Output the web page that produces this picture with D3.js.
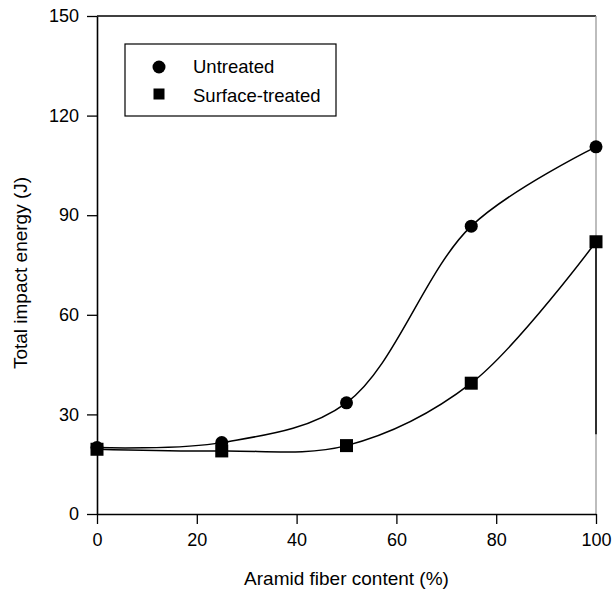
<!DOCTYPE html>
<html>
<head>
<meta charset="utf-8">
<script src="https://cdn.jsdelivr.net/npm/d3@7"></script>
<style>
  body { margin: 0; background: #fff; }
  svg { display: block; font-family: "Liberation Sans", Arial, sans-serif; }
</style>
</head>
<body>
<div id="chart"></div>
<script>
// data
var fiberContent = [0, 25, 50, 75, 100];
var untreated = [20, 21.5, 33.5, 86.7, 110.6];
var surfaceTreated = [19.5, 19, 20.6, 39.4, 82];
var xTicks = [0, 20, 40, 60, 80, 100];
var yTicks = [0, 30, 60, 90, 120, 150];
var seriesNames = ['Untreated', 'Surface-treated'];

var width = 613, height = 592;
var margin = {top: 16, right: 17, bottom: 78, left: 97};
var plotW = width - margin.left - margin.right;
var plotH = height - margin.top - margin.bottom;

var svg = d3.select('#chart').append('svg')
	.attr('width', width)
	.attr('height', height);

var g = svg.append('g')
	.attr('transform', 'translate(' + margin.left + ',' + margin.top + ')');

var x = d3.scaleLinear().domain([0, 100]).range([0, plotW]);
var y = d3.scaleLinear().domain([0, 150]).range([plotH, 0]);

// frame: top and right
g.append('line')
	.attr('x1', 0).attr('x2', plotW)
	.attr('y1', 0).attr('y2', 0)
	.attr('stroke', '#000').attr('stroke-width', 1.3);
g.append('line')
	.attr('x1', plotW).attr('x2', plotW)
	.attr('y1', 0).attr('y2', plotH)
	.attr('stroke', '#9a9a9a').attr('stroke-width', 1.3);
g.append('line')
	.attr('x1', plotW).attr('x2', plotW)
	.attr('y1', y(82)).attr('y2', y(24))
	.attr('stroke', '#000').attr('stroke-width', 1.5);

var xAxis = g.append('g')
	.attr('transform', 'translate(0,' + plotH + ')')
	.call(d3.axisBottom(x).tickValues(xTicks).tickSize(10).tickSizeOuter(0).tickPadding(9));

var yAxis = g.append('g')
	.call(d3.axisLeft(y).tickValues(yTicks).tickSize(10).tickSizeOuter(0).tickPadding(8));

[xAxis, yAxis].forEach(function(ax){
	ax.selectAll('path.domain').attr('stroke', '#000').attr('stroke-width', 1.6);
	ax.selectAll('.tick line').attr('stroke', '#000').attr('stroke-width', 1.3);
	ax.selectAll('.tick text')
		.attr('fill', '#000')
		.style('font-size', '18px')
		.style('font-family', '"Liberation Sans", Arial, sans-serif');
});

// axis titles
svg.append('text')
	.attr('x', margin.left + plotW / 2)
	.attr('y', 585)
	.attr('text-anchor', 'middle')
	.style('font-size', '19px')
	.text('Aramid fiber content (%)');

svg.append('text')
	.attr('transform', 'translate(27,' + (margin.top + plotH / 2 + 8) + ') rotate(-90)')
	.attr('text-anchor', 'middle')
	.style('font-size', '19px')
	.text('Total impact energy (J)');

// curves
var line = d3.line()
	.x(function(d){ return x(d[0]); })
	.y(function(d){ return y(d[1]); })
	.curve(d3.curveCatmullRom.alpha(0.5));

var seriesData = [untreated, surfaceTreated].map(function(vals){
	return fiberContent.map(function(c, i){ return [c, vals[i]]; });
});

g.selectAll('path.curve')
	.data(seriesData)
	.enter()
	.append('path')
	.attr('class', 'curve')
	.attr('d', line)
	.attr('fill', 'none')
	.attr('stroke', '#000')
	.attr('stroke-width', 1.5);

// markers
g.selectAll('circle.pt')
	.data(seriesData[0])
	.enter()
	.append('circle')
	.attr('class', 'pt')
	.attr('cx', function(d){ return x(d[0]); })
	.attr('cy', function(d){ return y(d[1]); })
	.attr('r', 6.5)
	.attr('fill', '#000');

var sq = 13;
g.selectAll('rect.pt')
	.data(seriesData[1])
	.enter()
	.append('rect')
	.attr('class', 'pt')
	.attr('x', function(d){ return x(d[0]) - sq / 2; })
	.attr('y', function(d){ return y(d[1]) - sq / 2; })
	.attr('width', sq)
	.attr('height', sq)
	.attr('fill', '#000');

// legend
var legend = svg.append('g').attr('transform', 'translate(125,44)');
legend.append('rect')
	.attr('width', 211)
	.attr('height', 72)
	.attr('fill', '#fff')
	.attr('stroke', '#000')
	.attr('stroke-width', 1.2);

legend.append('circle')
	.attr('cx', 34).attr('cy', 23).attr('r', 6.5).attr('fill', '#000');
legend.append('rect')
	.attr('x', 34 - 5.5).attr('y', 50 - 5.5)
	.attr('width', 11).attr('height', 11).attr('fill', '#000');

legend.selectAll('text')
	.data(seriesNames)
	.enter()
	.append('text')
	.attr('x', 68)
	.attr('y', function(d, i){ return 29 + i * 28.5; })
	.style('font-size', '18.5px')
	.text(function(d){ return d; });
</script>
</body>
</html>
